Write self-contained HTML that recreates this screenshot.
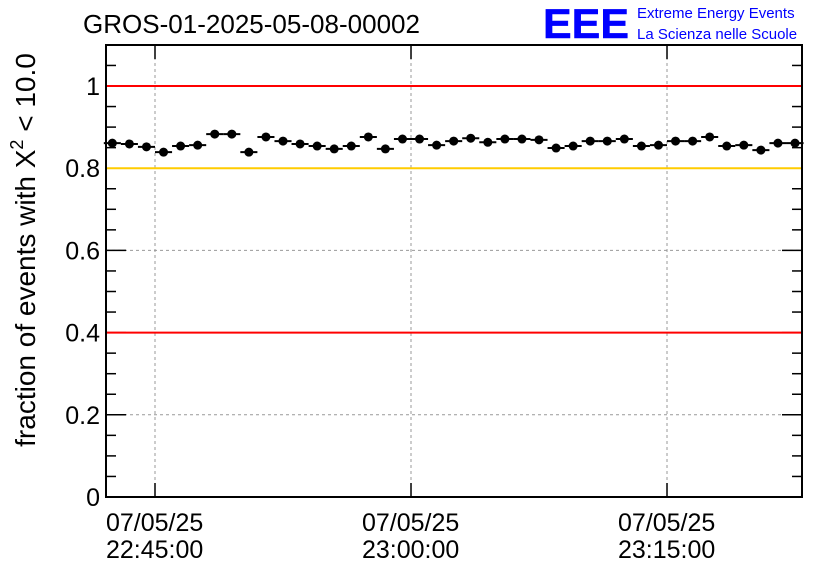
<!DOCTYPE html>
<html><head><meta charset="utf-8"><style>
body{margin:0;background:#fff;}
svg{display:block;font-family:"Liberation Sans",Arial,sans-serif;}
</style></head><body>
<svg id="c" width="836" height="572">
<rect x="0" y="0" width="836" height="572" fill="#fff"/>
<text x="83" y="33" font-size="25.5" fill="#000" textLength="337" lengthAdjust="spacingAndGlyphs">GROS-01-2025-05-08-00002</text>
<text x="543" y="38" font-size="42" font-weight="bold" fill="#0000ff" stroke="#0000ff" stroke-width="0.5" textLength="86" lengthAdjust="spacingAndGlyphs">EEE</text>
<text x="637" y="18" font-size="15" fill="#0000ff">Extreme Energy Events</text>
<text x="637" y="39" font-size="15" fill="#0000ff">La Scienza nelle Scuole</text>
<g id="grid"></g>
<g id="marks"></g>
<g id="axes"></g>
<g id="ref"></g>
<rect x="106" y="45" width="696" height="452" fill="none" stroke="#000" stroke-width="2"/>
<text transform="translate(35,250) rotate(-90)" text-anchor="middle" font-size="28" fill="#000">fraction of events with X<tspan dy="-12" font-size="18">2</tspan><tspan dy="12"> &lt; 10.0</tspan></text>
</svg>
<script>
const values=[0.861,0.859,0.852,0.839,0.854,0.856,0.883,0.883,0.839,0.876,0.866,0.859,0.854,0.847,0.854,0.876,0.847,0.871,0.871,0.856,0.866,0.873,0.863,0.871,0.871,0.869,0.849,0.854,0.866,0.866,0.871,0.854,0.856,0.866,0.866,0.876,0.854,0.856,0.844,0.861,0.861];
const errors=[0.007,0.007,0.007,0.007,0.007,0.007,0.007,0.007,0.007,0.007,0.007,0.007,0.007,0.007,0.007,0.007,0.007,0.007,0.007,0.007,0.007,0.007,0.007,0.007,0.007,0.007,0.007,0.007,0.007,0.007,0.007,0.007,0.007,0.007,0.007,0.007,0.007,0.007,0.007,0.007,0.007];
const startMin=-2.5; // minutes relative to 22:45:00
const xTickMins=[0,15,30];
const xTickLabels=[["07/05/25","22:45:00"],["07/05/25","23:00:00"],["07/05/25","23:15:00"]];
const yTicks=[0,0.2,0.4,0.6,0.8,1];
const yTickLabels=["0","0.2","0.4","0.6","0.8","1"];
const refLines=[{v:1,c:"#ff0000"},{v:0.8,c:"#ffcc00"},{v:0.4,c:"#ff0000"}];
const NS="http://www.w3.org/2000/svg";
const X0=106,X1=802,Y0=497,Y1=45;
const xs=m=>155+m*17.067;
const ys=v=>497-v*411;
function mk(t,a,p){const e=document.createElementNS(NS,t);for(const k in a)e.setAttribute(k,a[k]);p.appendChild(e);return e;}
const grid=document.getElementById('grid'),ref=document.getElementById('ref'),marks=document.getElementById('marks'),axes=document.getElementById('axes');
xTickMins.forEach((m,i)=>{
 const l=mk('line',{x1:xs(m),x2:xs(m),y1:Y1,y2:Y0,stroke:'#999','stroke-dasharray':'3,3','stroke-width':1},grid);
 
 
 const t=mk('line',{x1:xs(m),x2:xs(m),y1:Y0,y2:Y0-14,stroke:'#000','stroke-width':1.5},axes);
 
 
 const t2=mk('line',{x1:xs(m),x2:xs(m),y1:Y1,y2:Y1+14,stroke:'#000','stroke-width':1.5},axes);
 
 
 xTickLabels[i].forEach((s,j)=>{
  const tx=mk('text',{x:xs(m)-49,y:531+j*27,'font-size':25,fill:'#000'},axes);
  tx.textContent=s;
  
  
 });
});
yTicks.forEach((v,i)=>{
 if(v>0&&v<1){const l=mk('line',{x1:X0,x2:X1,y1:ys(v),y2:ys(v),stroke:'#999','stroke-dasharray':'3,3','stroke-width':1},grid);
 
 }
 const tx=mk('text',{x:100,y:ys(v)+9,'font-size':25,fill:'#000','text-anchor':'end'},axes);
 tx.textContent=yTickLabels[i];
 
 
});
for(let k=0;k<=22;k++){const v=k*0.05,y=ys(v);const len=(k%4===0)?20:10;
 const t=mk('line',{x1:X0,x2:X0+len,y1:y,y2:y,stroke:'#000','stroke-width':1.5},axes);
 
 
 const t2=mk('line',{x1:X1,x2:X1-len,y1:y,y2:y,stroke:'#000','stroke-width':1.5},axes);
 
 
}
refLines.forEach(r=>{
 const l=mk('line',{x1:X0,x2:X1,y1:ys(r.v),y2:ys(r.v),stroke:r.c,'stroke-width':2},ref);
 
 
});
values.forEach((v,i)=>{
 const m=startMin+i,cx=xs(m),cy=ys(v);
 const g=mk('g',{},marks);
 
 
 mk('line',{x1:xs(m-0.5),x2:xs(m+0.5),y1:cy,y2:cy,stroke:'#000','stroke-width':2},g);
 mk('line',{x1:cx,x2:cx,y1:ys(v-errors[i]),y2:ys(v+errors[i]),stroke:'#000','stroke-width':2},g);
 mk('circle',{cx:cx,cy:cy,r:4.5,fill:'#000'},g);
});
</script>
</body></html>
